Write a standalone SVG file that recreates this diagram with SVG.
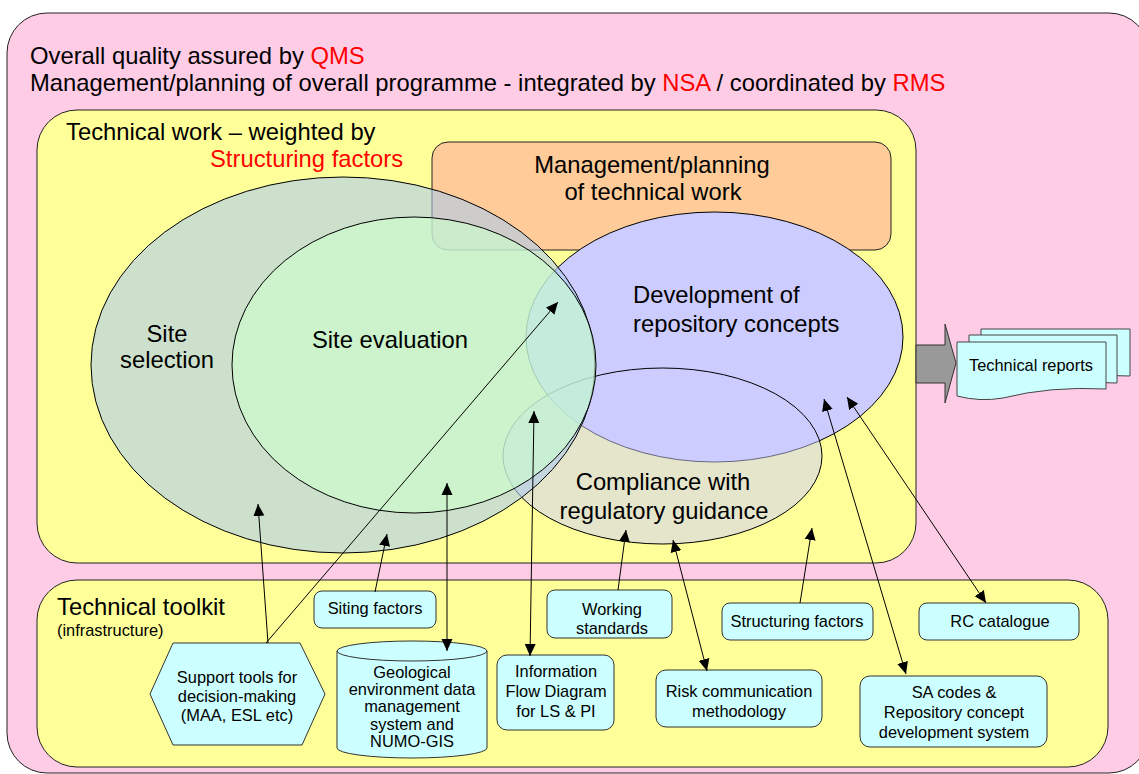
<svg xmlns="http://www.w3.org/2000/svg" width="1139" height="774" viewBox="0 0 1139 774">
<defs>
<style>
.t{font-family:"Liberation Sans",Arial,sans-serif;fill:#000}
.big{font-size:23.8px}
.sm{font-size:16.4px}
.mid{text-anchor:middle}
.red{fill:#FF0000}
.box{fill:#CCFFFF;stroke:#333;stroke-width:1}
.conn{stroke:#000;stroke-width:1;fill:none}
.arr{marker-end:url(#ah)}
.both{marker-start:url(#ah);marker-end:url(#ah)}
</style>
<marker id="ah" viewBox="0 0 12 12" refX="12" refY="6" markerWidth="12" markerHeight="12" markerUnits="userSpaceOnUse" orient="auto-start-reverse">
<path d="M0,0.5 L12,6 L0,11.5 z" fill="#000"/>
</marker>
</defs>

<g id="programme">
<rect x="7" y="13" width="1142" height="760" rx="40" fill="#FFCCE6" stroke="#222" stroke-width="1"/>
<text class="t big" x="30" y="64">Overall quality assured by <tspan class="red">QMS</tspan></text>
<text class="t big" x="30" y="91">Management/planning of overall programme - integrated by <tspan class="red">NSA</tspan> / coordinated by <tspan class="red">RMS</tspan></text>
</g>

<g id="technical-work">
<rect x="37" y="110" width="879" height="453" rx="40" fill="#FFFF99" stroke="#222" stroke-width="1"/>
<text class="t big" x="66" y="140">Technical work – weighted by</text>
<text class="t big red" x="210" y="167">Structuring factors</text>
</g>

<g id="management">
<rect x="432" y="142" width="459" height="108" rx="16" fill="#FFCC99" stroke="#222" stroke-width="1"/>
<text class="t big mid" x="652" y="173">Management/planning</text>
<text class="t big mid" x="653" y="200">of technical work</text>
</g>

<g id="development">
<ellipse cx="714.5" cy="337" rx="188.5" ry="125" fill="#CCCCFF" stroke="#000" stroke-width="1"/>
</g>

<g id="compliance">
<ellipse cx="662.5" cy="456" rx="159.5" ry="88" fill="#CCCCFF" fill-opacity="0.5" stroke="#000" stroke-width="1"/>
</g>

<g id="site-selection">
<ellipse cx="343" cy="365" rx="252" ry="188" fill="#ABCCED" fill-opacity="0.6" stroke="#000" stroke-width="1"/>
</g>

<g id="site-evaluation">
<ellipse cx="414" cy="365" rx="182" ry="148" fill="#CCFFCC" fill-opacity="0.6" stroke="#000" stroke-width="1"/>
</g>

<g id="ellipse-labels">
<text class="t big mid" x="167" y="342">Site</text>
<text class="t big mid" x="167" y="368">selection</text>
<text class="t big mid" x="390" y="348">Site evaluation</text>
<text class="t big" x="633" y="303">Development of</text>
<text class="t big" x="633" y="332">repository concepts</text>
<text class="t big mid" x="663" y="490">Compliance with</text>
<text class="t big mid" x="664" y="519">regulatory guidance</text>
</g>

<g id="output-arrow">
<polygon points="916,345 945,345 945,324 956,363 945,403 945,383 916,383" fill="#999999" stroke="#333" stroke-width="1"/>
</g>

<g id="technical-reports">
<path d="M981,329 H1130 V376 Q1075,373 1028,384 Q1000,389 981,383 Z" fill="#CCFFFF" stroke="#444" stroke-width="1"/>
<path d="M969,335 H1117 V383 Q1062,380 1015,391 Q990,396 969,390 Z" fill="#CCFFFF" stroke="#444" stroke-width="1"/>
<path d="M957,342 H1106 V389 Q1050,386 1003,398 Q980,402 957,396 Z" fill="#CCFFFF" stroke="#444" stroke-width="1"/>
<text class="t sm" x="969" y="371">Technical reports</text>
</g>

<g id="toolkit">
<rect x="37" y="580" width="1071" height="187" rx="40" fill="#FFFF99" stroke="#222" stroke-width="1"/>
<text class="t big" x="57" y="615">Technical toolkit</text>
<text class="t sm" x="57" y="636">(infrastructure)</text>
</g>

<g id="siting-factors">
<rect class="box" x="314" y="591" width="122" height="37" rx="8"/>
<text class="t sm mid" x="375" y="614">Siting factors</text>
</g>

<g id="working-standards">
<rect class="box" x="547" y="590" width="125" height="48" rx="8"/>
<text class="t sm mid" x="612" y="615">Working</text>
<text class="t sm mid" x="612" y="634">standards</text>
</g>

<g id="structuring-factors">
<rect class="box" x="722" y="603" width="151" height="37" rx="8"/>
<text class="t sm mid" x="797" y="627">Structuring factors</text>
</g>

<g id="rc-catalogue">
<rect class="box" x="919" y="603" width="160" height="37" rx="8"/>
<text class="t sm mid" x="1000" y="627">RC catalogue</text>
</g>

<g id="support-tools">
<polygon class="box" points="150,694 173,643 300,643 325,694 302,745 173,745"/>
<text class="t sm mid" x="237" y="683">Support tools for</text>
<text class="t sm mid" x="237" y="702">decision-making</text>
<text class="t sm mid" x="237" y="721">(MAA, ESL etc)</text>
</g>

<g id="geological-db">
<path class="box" d="M337,651 A75,10 0 0 1 487,651 V748 A75,10 0 0 1 337,748 Z"/>
<path d="M337,651 A75,10 0 0 0 487,651" fill="none" stroke="#333" stroke-width="1"/>
<text class="t sm mid" x="412" y="678">Geological</text>
<text class="t sm mid" x="412" y="695">environment data</text>
<text class="t sm mid" x="412" y="712">management</text>
<text class="t sm mid" x="412" y="730">system and</text>
<text class="t sm mid" x="412" y="747">NUMO-GIS</text>
</g>

<g id="info-flow">
<rect class="box" x="497" y="655" width="117" height="75" rx="10"/>
<text class="t sm mid" x="556" y="677">Information</text>
<text class="t sm mid" x="556" y="697">Flow Diagram</text>
<text class="t sm mid" x="556" y="717">for LS &amp; PI</text>
</g>

<g id="risk-communication">
<rect class="box" x="656" y="670" width="166" height="57" rx="10"/>
<text class="t sm mid" x="739" y="697">Risk communication</text>
<text class="t sm mid" x="739" y="717">methodology</text>
</g>

<g id="sa-codes">
<rect class="box" x="860" y="676" width="187" height="71" rx="10"/>
<text class="t sm mid" x="954" y="698">SA codes &amp;</text>
<text class="t sm mid" x="954" y="718">Repository concept</text>
<text class="t sm mid" x="954" y="738">development system</text>
</g>

<g id="connectors">
<path class="conn arr" d="M268,643 L258,504"/>
<path class="conn arr" d="M266,643 L558,302"/>
<path class="conn arr" d="M375,592 L387,534"/>
<path class="conn both" d="M447,483 L447,651"/>
<path class="conn both" d="M534,411 L530,656"/>
<path class="conn arr" d="M618,590 L626,530"/>
<path class="conn both" d="M673,540 L707,671"/>
<path class="conn arr" d="M800,603 L812,528"/>
<path class="conn both" d="M824,399 L906,674"/>
<path class="conn both" d="M847,397 L986,603"/>
</g>
</svg>
